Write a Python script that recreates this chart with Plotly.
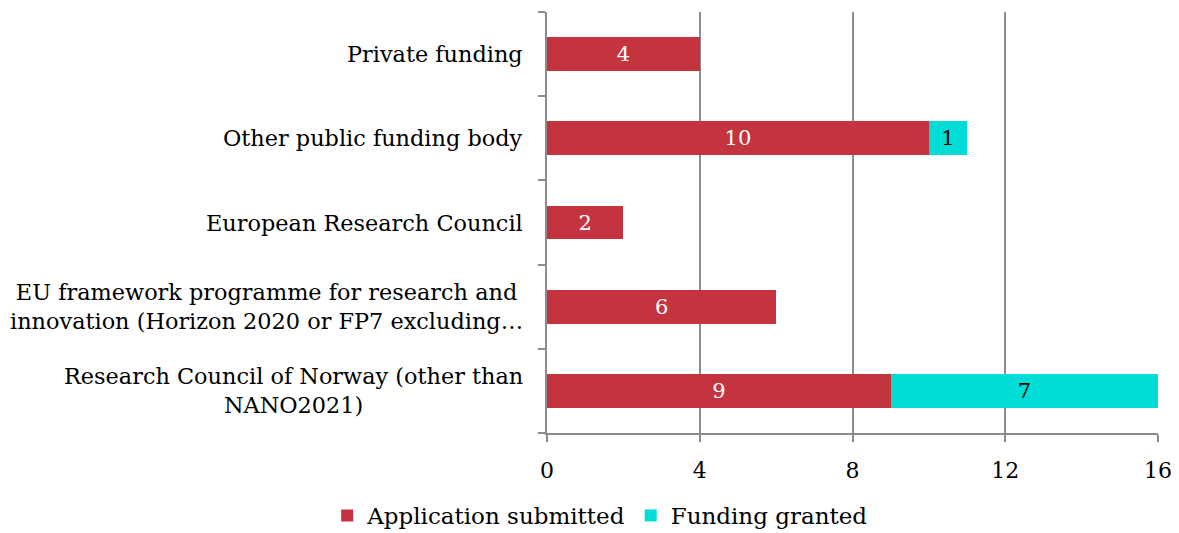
import plotly.graph_objects as go

# categories bottom -> top
categories = [
    "Research Council of Norway (other than<br>NANO2021)",
    "EU framework programme for research and<br>innovation (Horizon 2020 or FP7 excluding…",
    "European Research Council",
    "Other public funding body",
    "Private funding",
]
submitted = [9, 6, 2, 10, 4]
granted = [7, 0, 0, 1, 0]
x_ticks = [0, 4, 8, 12, 16]

RED = "#C4343F"
CYAN = "#00DCD6"
GRID = "#8C8C8C"
FONT = "DejaVu Serif"

ids = list(range(len(categories)))

fig = go.Figure()
fig.add_trace(go.Bar(
    y=ids, x=submitted, orientation="h", name="Application submitted",
    marker=dict(color=RED, line=dict(width=0)),
    text=[str(v) if v else "" for v in submitted], textposition="inside",
    insidetextanchor="middle", textfont=dict(color="white", size=21, family=FONT),
))
fig.add_trace(go.Bar(
    y=ids, x=granted, orientation="h", name="Funding granted",
    marker=dict(color=CYAN, line=dict(width=0)),
    text=[str(v) if v else "" for v in granted], textposition="inside",
    insidetextanchor="middle", textfont=dict(color="black", size=21, family=FONT),
))

# category labels as annotations so two-line labels can be centred
for i, c in enumerate(categories):
    fig.add_annotation(x=0, xref="paper", xanchor="right", xshift=-22,
                       y=i, yref="y", text=c, showarrow=False, align="center",
                       font=dict(size=22.4, family=FONT, color="black"))

# page body adds an 8px offset, margins compensate for it
fig.update_layout(
    barmode="stack", bargap=0.6,
    width=1179, height=533,
    margin=dict(l=539, r=29, t=4, b=106),
    plot_bgcolor="white", paper_bgcolor="white",
    font=dict(family=FONT, size=22, color="black"),
    legend=dict(orientation="h", x=0.087, xanchor="center",
                y=-0.196, yanchor="middle", font=dict(size=23), traceorder="normal"),
    showlegend=True,
)
fig.update_xaxes(range=[0, 16], tickvals=x_ticks, showgrid=True, gridcolor=GRID, gridwidth=2,
                 showline=True, linecolor=GRID, linewidth=2, ticks="outside", ticklen=7,
                 tickcolor=GRID, tickwidth=2, zeroline=False, tickfont=dict(size=22),
                 ticklabelstandoff=10)
fig.update_yaxes(range=[-0.5, len(categories) - 0.5], tickvals=[i - 0.5 for i in range(len(categories) + 1)],
                 showticklabels=False, showgrid=False, showline=True, linecolor=GRID, linewidth=2,
                 ticks="outside", ticklen=7, tickcolor=GRID, tickwidth=2, zeroline=False)

fig.write_html("out.html")
